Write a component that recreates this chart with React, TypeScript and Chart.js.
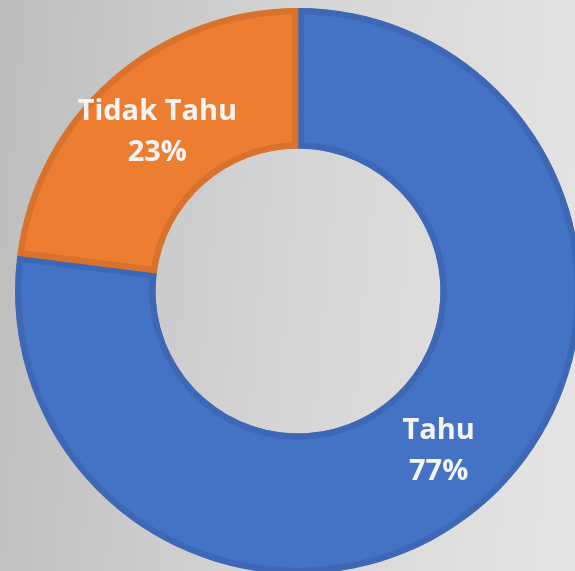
import React, { useEffect, useRef } from "react";
import { Chart, registerables } from "chart.js";

Chart.register(...registerables);

const categories: string[] = ["Tahu", "Tidak Tahu"];
const values: number[] = [77, 23];
const percentLabels: string[] = ["77%", "23%"];
const fillColors: string[] = ["#4472C4", "#ED7D31"];
const borderColors: string[] = ["#3E68B6", "#D8722C"];

const labelPlugin = {
  id: "sliceLabels",
  afterDatasetsDraw(chart: any) {
    const ctx = chart.ctx;
    const meta = chart.getDatasetMeta(0);
    ctx.save();
    ctx.fillStyle = "#F4F4F4";
    ctx.textAlign = "center";
    ctx.textBaseline = "middle";
    ctx.font = "bold 29px 'Open Sans'";
    meta.data.forEach((arc: any, i: number) => {
      const p = arc.tooltipPosition();
      ctx.fillText(categories[i], p.x, p.y - 20);
      ctx.fillText(percentLabels[i], p.x, p.y + 21);
    });
    ctx.restore();
  },
};

export default function App() {
  const ref = useRef<HTMLCanvasElement | null>(null);
  useEffect(() => {
    if (!ref.current) return;
    const chart = new Chart(ref.current, {
      type: "doughnut",
      data: {
        labels: categories,
        datasets: [
          {
            data: values,
            backgroundColor: fillColors,
            borderColor: borderColors,
            borderWidth: 6,
            borderAlign: "inner",
          } as any,
        ],
      },
      options: {
        animation: false,
        responsive: false,
        maintainAspectRatio: false,
        cutout: "50.3%",
        plugins: {
          legend: { display: false },
          tooltip: { enabled: false },
        },
        layout: { padding: 0 },
      },
      plugins: [labelPlugin],
    });
    return () => chart.destroy();
  }, []);
  return (
    <div
      style={{
        position: "fixed",
        left: 0,
        top: 0,
        width: 575,
        height: 571,
        overflow: "hidden",
        background: "linear-gradient(95deg, #bdbdbd 0%, #d5d5d5 50%, #e5e5e5 100%)",
      }}
    >
      <canvas
        ref={ref}
        width={566}
        height={566}
        style={{ position: "absolute", left: 15, top: 8, width: 566, height: 566 }}
      />
    </div>
  );
}
